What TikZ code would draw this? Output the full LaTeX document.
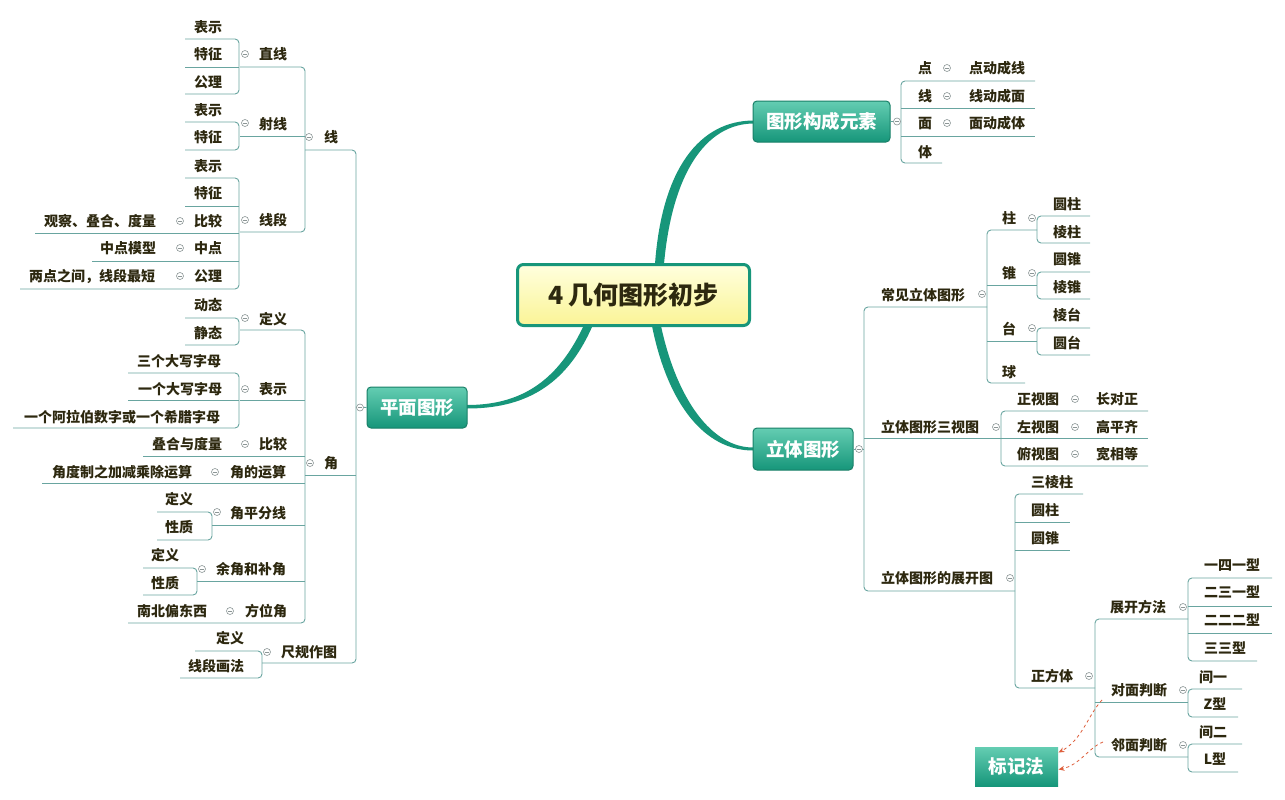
\documentclass[tikz,border=0pt]{standalone}
\usepackage{fontspec}
\setmainfont{Noto Sans CJK SC}
\usetikzlibrary{arrows.meta}
\definecolor{labc}{RGB}{45,40,15}
\definecolor{linec}{RGB}{105,165,160}
\definecolor{togc}{RGB}{140,150,150}
\definecolor{teal1}{RGB}{100,205,178}
\definecolor{teal2}{RGB}{22,150,122}
\definecolor{tealb}{RGB}{25,128,104}
\definecolor{curvec}{RGB}{23,150,122}
\definecolor{yel1}{RGB}{255,255,222}
\definecolor{yel2}{RGB}{250,244,150}
\definecolor{redc}{RGB}{222,95,60}
\tikzset{
  x=1pt, y=-1pt,
  lab/.style={font=\fontsize{14}{14}\selectfont\bfseries, text=labc, inner sep=0pt, text height=11.5pt, text depth=1pt},
  tl/.style={draw=linec, line width=0.9pt, rounded corners=4pt},
  tog/.style={circle, draw=togc, fill=white, minimum size=7pt, inner sep=0pt, line width=0.6pt,
    path picture={\draw[togc,line width=0.6pt] ([xshift=-2pt]path picture bounding box.center) -- ([xshift=2pt]path picture bounding box.center);}},
  topic/.style={draw=tealb, line width=1pt, rounded corners=4pt, top color=teal1, bottom color=teal2,
    text=white, font=\fontsize{18.5}{19}\selectfont\bfseries, inner sep=0pt},
  central/.style={draw=curvec, line width=3pt, rounded corners=6pt, top color=yel1, bottom color=yel2,
    text=labc, font=\fontsize{25}{26}\selectfont\bfseries, inner sep=0pt, minimum width=232pt, minimum height=61pt},
  branch/.style={fill=curvec, draw=none},
  rarr/.style={draw=redc, dashed, line width=0.8pt, -{Stealth[length=6pt,width=5pt]}}
}
\newcommand\T[3]{\node[lab] (#1) at (#2) {#3};}
\newcommand\G[2]{\node[tog] (#1) at (#2) {};}
\begin{document}
\begin{tikzpicture}
\path[use as bounding box, fill=white] (0,0) rectangle (1285,800);

% ---------- main branches ----------
\fill[branch] (583,327) .. controls (556,384) and (518,405) .. (467,405) -- (467,408.5) .. controls (522,408.5) and (565,388) .. (592,327) -- cycle;
\fill[branch] (655,264) .. controls (662,168) and (700,120.5) .. (754,120.5) -- (754,123.5) .. controls (705,123.5) and (672,175) .. (664,264) -- cycle;
\fill[branch] (652,326) .. controls (668,405) and (705,450.5) .. (753,450.5) -- (753,447.5) .. controls (712,447.5) and (677,400) .. (661,326) -- cycle;

\node[central] (root) at (633.5,295) {4 几何图形初步};
\node[topic, minimum width=100pt, minimum height=41pt] (pm) at (417,407.5) {平面图形};
\node[topic, minimum width=137pt, minimum height=41pt] (gx) at (821.5,121.5) {图形构成元素};
\node[topic, minimum width=100pt, minimum height=42pt] (lt) at (803,449) {立体图形};

% ---------- left tree lines ----------
\draw[tl] (305,150) -- (356,150) -- (356,663) -- (262,663);
\draw[tl] (305,475) -- (356,475);
\draw[tl] (356,407) -- (pm.west);
% 线
\draw[tl] (240,67) -- (305,67) -- (305,232) -- (240,232);
\draw[tl] (240,136) -- (305,136);
\draw[tl] (185,39) -- (239,39) -- (239,94) -- (185,94);
\draw[tl] (185,67) -- (239,67);
\draw[tl] (185,122) -- (239,122) -- (239,150) -- (185,150);
\draw[tl] (185,178) -- (239,178) -- (239,289) -- (20,289);
\draw[tl] (185,206) -- (239,206);
\draw[tl] (35,233) -- (239,233);
\draw[tl] (92,261) -- (239,261);
% 角
\draw[tl] (240,330) -- (305,330) -- (305,623) -- (128,623);
\draw[tl] (240,400) -- (305,400);
\draw[tl] (143,456) -- (305,456);
\draw[tl] (42,483) -- (305,483);
\draw[tl] (212,525) -- (305,525);
\draw[tl] (197,581) -- (305,581);
\draw[tl] (185,318) -- (239,318) -- (239,345) -- (185,345);
\draw[tl] (128,373) -- (239,373) -- (239,428) -- (13,428);
\draw[tl] (128,400) -- (239,400);
\draw[tl] (157,512) -- (212,512) -- (212,540) -- (157,540);
\draw[tl] (143,568) -- (197,568) -- (197,595) -- (143,595);
% 尺规作图
\draw[tl] (195,651) -- (262,651) -- (262,678) -- (180,678);

% ---------- right tree lines ----------
\draw[tl] (gx.east) -- (901,121.5);
\draw[tl] (942,163) -- (901,163) -- (901,81) -- (1035,81);
\draw[tl] (901,108) -- (1035,108);
\draw[tl] (901,136) -- (1035,136);

\draw[tl] (lt.east) -- (864,449);
\draw[tl] (987,307) -- (864,307) -- (864,591) -- (1015,591);
\draw[tl] (864,438) -- (1001,438);
\draw[tl] (1037,230) -- (987,230) -- (987,383) -- (1025,383);
\draw[tl] (987,285) -- (1037,285);
\draw[tl] (987,341) -- (1037,341);
\draw[tl] (1090,216) -- (1037,216) -- (1037,243) -- (1090,243);
\draw[tl] (1090,272) -- (1037,272) -- (1037,299) -- (1090,299);
\draw[tl] (1090,328) -- (1037,328) -- (1037,355) -- (1090,355);
\draw[tl] (1148,411) -- (1001,411) -- (1001,466) -- (1148,466);
\draw[tl] (1001,438) -- (1148,438);
\draw[tl] (1083,494) -- (1015,494) -- (1015,688) -- (1095,688);
\draw[tl] (1015,522) -- (1070,522);
\draw[tl] (1015,550) -- (1070,550);
\draw[tl] (1188,619) -- (1095,619) -- (1095,757) -- (1188,757);
\draw[tl] (1095,702) -- (1188,702);
\draw[tl] (1272,578) -- (1188,578) -- (1188,661) -- (1257,661);
\draw[tl] (1188,606) -- (1272,606);
\draw[tl] (1188,633) -- (1272,633);
\draw[tl] (1242,689) -- (1188,689) -- (1188,717) -- (1238,717);
\draw[tl] (1242,744) -- (1188,744) -- (1188,772) -- (1238,772);

% ---------- toggles ----------
\G{g1}{360,407.5}
\G{g2}{309,137} \G{g3}{310,463} \G{g4}{267,652}
\G{g5}{245,54} \G{g6}{245,123} \G{g7}{245,220}
\G{g8}{180,221} \G{g9}{180,248} \G{g10}{180,276}
\G{g11}{245,318} \G{g12}{245,389} \G{g13}{245,444} \G{g14}{215,472}
\G{g15}{217,512} \G{g16}{202,569} \G{g17}{230,611}
\G{h1}{897,121.5} \G{h2}{947,68} \G{h3}{947,96} \G{h4}{947,123}
\G{h5}{859,449} \G{h6}{982,294} \G{h7}{1032,218} \G{h8}{1032,273} \G{h9}{1032,328}
\G{h10}{996,427} \G{h11}{1075,399} \G{h12}{1075,427} \G{h13}{1075,454}
\G{h14}{1010,578} \G{h15}{1089,676} \G{h16}{1183,607} \G{h17}{1183,690} \G{h18}{1183,745}

% ---------- left labels ----------
\T{a1}{331,137}{线}
\T{a2}{331,463}{角}
\T{a3}{309,652}{尺规作图}
\T{b1}{273,54}{直线}
\T{b2}{273,124}{射线}
\T{b3}{273,220}{线段}
\T{c1}{208,27}{表示}
\T{c2}{208,54}{特征}
\T{c3}{208,82}{公理}
\T{c4}{208,110}{表示}
\T{c5}{208,137}{特征}
\T{c6}{208,166}{表示}
\T{c7}{208,193}{特征}
\T{c8}{208,221}{比较}
\T{c9}{208,248}{中点}
\T{c10}{208,276}{公理}
\T{d1}{100,221}{观察、叠合、度量}
\T{d2}{128,248}{中点模型}
\T{d3}{92,276}{两点之间，线段最短}
\T{b4}{273,319}{定义}
\T{b5}{273,389}{表示}
\T{b6}{273,444}{比较}
\T{b7}{258,472}{角的运算}
\T{b8}{258,513}{角平分线}
\T{b9}{251,569}{余角和补角}
\T{b10}{266,611}{方位角}
\T{c11}{208,305}{动态}
\T{c12}{208,333}{静态}
\T{c13}{179,361}{三个大写字母}
\T{c14}{180,389}{一个大写字母}
\T{c15}{122,417}{一个阿拉伯数字或一个希腊字母}
\T{c16}{187,444}{叠合与度量}
\T{c17}{122,472}{角度制之加减乘除运算}
\T{c18}{179,499}{定义}
\T{c19}{179,527}{性质}
\T{c20}{165,555}{定义}
\T{c21}{165,583}{性质}
\T{c22}{172,611}{南北偏东西}
\T{c23}{230,638}{定义}
\T{c24}{216,666}{线段画法}

% ---------- right labels ----------
\T{r1}{925,68}{点}
\T{r2}{925,96}{线}
\T{r3}{925,123}{面}
\T{r4}{925,152}{体}
\T{r5}{997,68}{点动成线}
\T{r6}{997,96}{线动成面}
\T{r7}{997,123}{面动成体}
\T{s1}{923,295}{常见立体图形}
\T{s2}{930,427}{立体图形三视图}
\T{s3}{937,578}{立体图形的展开图}
\T{t1}{1009,218}{柱}
\T{t2}{1009,273}{锥}
\T{t3}{1009,329}{台}
\T{t4}{1009,372}{球}
\T{u1}{1067,204}{圆柱}
\T{u2}{1067,232}{棱柱}
\T{u3}{1067,259}{圆锥}
\T{u4}{1067,287}{棱锥}
\T{u5}{1067,315}{棱台}
\T{u6}{1067,343}{圆台}
\T{t5}{1038,399}{正视图}
\T{t6}{1038,427}{左视图}
\T{t7}{1038,454}{俯视图}
\T{u7}{1117,399}{长对正}
\T{u8}{1117,427}{高平齐}
\T{u9}{1117,454}{宽相等}
\T{t8}{1052,482}{三棱柱}
\T{t9}{1045,510}{圆柱}
\T{t10}{1045,538}{圆锥}
\T{t11}{1052,676}{正方体}
\T{v1}{1138,607}{展开方法}
\T{v2}{1139,690}{对面判断}
\T{v3}{1139,745}{邻面判断}
\T{w1}{1232,565}{一四一型}
\T{w2}{1232,592}{二三一型}
\T{w3}{1232,620}{二二二型}
\T{w4}{1225,648}{三三型}
\T{w5}{1213,677}{间一}
\T{w6}{1215,704}{Z型}
\T{w7}{1213,732}{间二}
\T{w8}{1215,759}{L型}

% ---------- callout ----------
\node[topic, rounded corners=0pt, draw=none, minimum width=83pt, minimum height=39pt] (bj) at (1016.5,766.5) {标记法};
\coordinate (p1) at (1102,700);
\coordinate (p2) at (1103,742);
\draw[rarr] (p1) .. controls (1088,715) and (1082,740) .. ([yshift=14pt]bj.east);
\draw[rarr] (p2) .. controls (1088,748) and (1080,765) .. ([yshift=-3pt]bj.east);
\end{tikzpicture}
\end{document}
